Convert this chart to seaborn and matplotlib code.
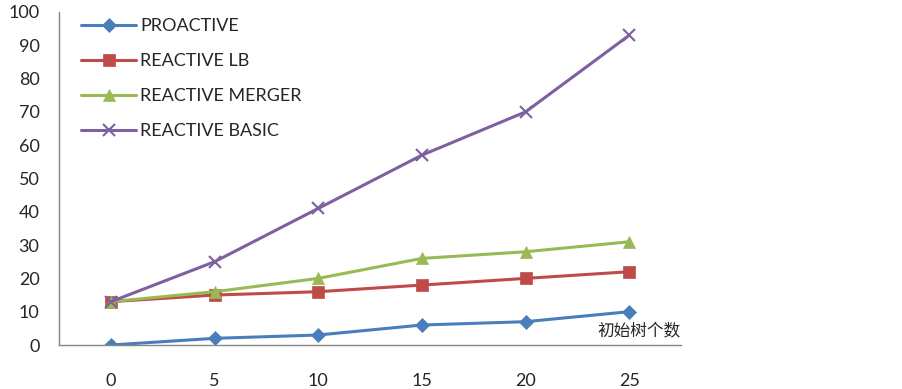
import matplotlib
matplotlib.use("Agg")
import matplotlib.pyplot as plt
from matplotlib.lines import Line2D
import seaborn as sns
import pandas as pd
import numpy as np

categories = ["0", "5", "10", "15", "20", "25"]
proactive = [0, 2, 3, 6, 7, 10]
reactive_lb = [13, 15, 16, 18, 20, 22]
reactive_merger = [13, 16, 20, 26, 28, 31]
reactive_basic = [13, 25, 41, 57, 70, 93]
series_names = ["PROACTIVE", "REACTIVE LB", "REACTIVE MERGER", "REACTIVE BASIC"]
y_ticks = [0, 10, 20, 30, 40, 50, 60, 70, 80, 90, 100]
x_label = "初始树个数"

sns.set_style("white")
plt.rcParams['font.family'] = ['Lato', 'DejaVu Sans']

rows = []
for name, vals in zip(series_names, [proactive, reactive_lb, reactive_merger, reactive_basic]):
    for i, v in enumerate(vals):
        rows.append({"pos": i, "value": v, "series": name})
df = pd.DataFrame(rows)

colors = {"PROACTIVE": "#4A7EBB", "REACTIVE LB": "#BE4B48",
          "REACTIVE MERGER": "#98B954", "REACTIVE BASIC": "#7D60A0"}
markers = {"PROACTIVE": "D", "REACTIVE LB": "s",
           "REACTIVE MERGER": "^", "REACTIVE BASIC": "x"}
msizes = {"PROACTIVE": 7, "REACTIVE LB": 8.5, "REACTIVE MERGER": 9, "REACTIVE BASIC": 9}

fig = plt.figure(figsize=(9.02, 3.89), dpi=100)
ax = fig.add_axes([59/902, 1 - 345/389, (681-59)/902, (345-12)/389])

handles = []
for name in series_names:
    sub = df[df["series"] == name]
    mew = 1.5 if name == "REACTIVE BASIC" else 0.5
    sns.lineplot(data=sub, x="pos", y="value", ax=ax, color=colors[name],
                 marker=markers[name], markersize=msizes[name], linewidth=2.2,
                 markeredgecolor=colors[name], markeredgewidth=mew,
                 errorbar=None, legend=False)
    handles.append(Line2D([], [], color=colors[name], marker=markers[name],
                          markersize=msizes[name], linewidth=2.2,
                          markeredgecolor=colors[name], markeredgewidth=mew))

ax.set_xlim(-0.5, 5.5)
ax.set_ylim(0, 100)
ax.set_yticks(y_ticks)
ax.set_yticklabels([str(t) for t in y_ticks], fontsize=13)
ax.set_xticks(range(len(categories)))
ax.set_xticklabels(categories, fontsize=13)
ax.set_xticks(np.arange(-0.5, 5.6, 1.0), minor=True)
ax.tick_params(axis='x', which='major', length=0, pad=20)
ax.tick_params(axis='x', which='minor', length=6, width=1, color="#868686", direction='out')
ax.tick_params(axis='y', which='major', length=6, width=1, color="#868686", direction='out', pad=8)
for s in ["top", "right"]:
    ax.spines[s].set_visible(False)
for s in ["left", "bottom"]:
    ax.spines[s].set_color("#868686")
    ax.spines[s].set_linewidth(1)
ax.set_xlabel("")
ax.set_ylabel("")
ax.text(1.0, 0.015, x_label, transform=ax.transAxes, ha="right", va="bottom",
        fontsize=12, family=["Noto Sans CJK SC", "DejaVu Sans"])

leg = ax.legend(handles, series_names, loc="upper left", bbox_to_anchor=(0.01, 1.03),
                frameon=False, fontsize=13, handlelength=3.0, labelspacing=1.05,
                handletextpad=0.25)

fig.savefig("out.png", dpi=100)
